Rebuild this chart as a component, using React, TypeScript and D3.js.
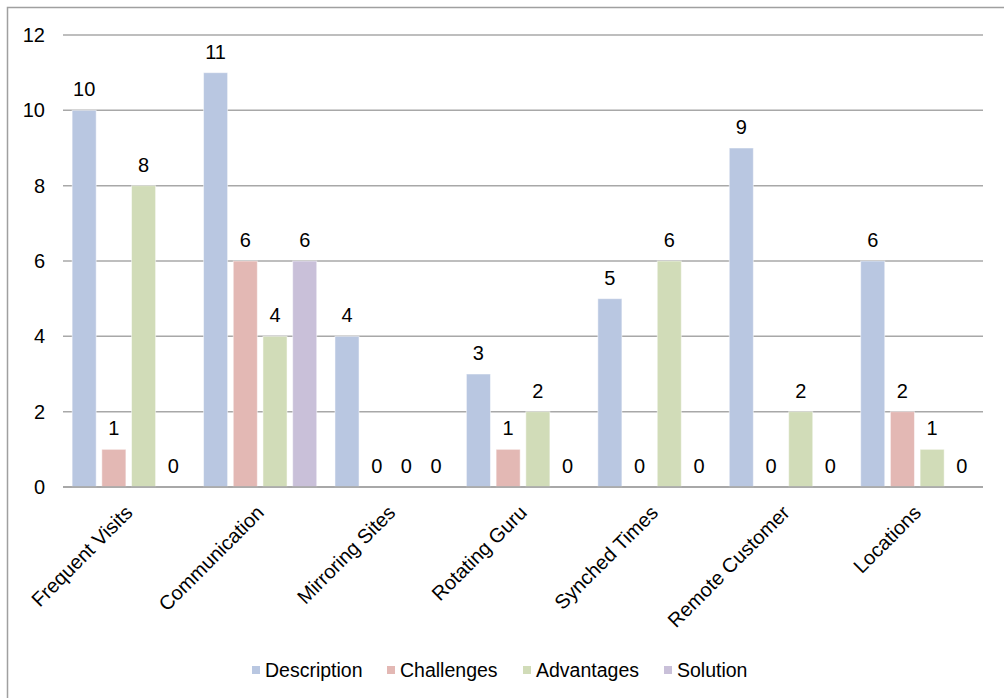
import React from "react";
import * as d3 from "d3";

const categories = [
  "Frequent Visits",
  "Communication",
  "Mirroring Sites",
  "Rotating Guru",
  "Synched Times",
  "Remote Customer",
  "Locations",
];
const seriesNames = ["Description", "Challenges", "Advantages", "Solution"];
const description = [10, 11, 4, 3, 5, 9, 6];
const challenges = [1, 6, 0, 1, 0, 0, 2];
const advantages = [8, 4, 0, 2, 6, 2, 1];
const solution = [0, 6, 0, 0, 0, 0, 0];
const yTicks = [0, 2, 4, 6, 8, 10, 12];

const seriesValues = [description, challenges, advantages, solution];
const colors = ["#b9c7e1", "#e3b8b4", "#d1dcb8", "#c9c0d9"];

const W = 1004;
const H = 698;
const FONT = "'Liberation Sans', Arial, sans-serif";

export default function App() {
  const x = d3.scaleBand<string>().domain(categories).range([63, 983]).padding(0);
  const xs = d3
    .scaleBand<string>()
    .domain(seriesNames)
    .range([0, x.bandwidth()])
    .paddingInner(0.19)
    .paddingOuter(0.307);
  const y = d3.scaleLinear().domain([0, 12]).range([487, 35]);

  const legendX = [252, 387, 523, 664];

  return (
    <svg
      width={W}
      height={H}
      style={{ position: "absolute", left: 0, top: 0, background: "#fff" }}
      fontFamily={FONT}
    >
      <rect x={7.5} y={7.5} width={W + 20} height={H + 20} fill="#fff" stroke="#a0a0a0" strokeWidth={1.5} />

      {yTicks.map((t) => (
        <g key={t}>
          <line x1={63} x2={983} y1={y(t)} y2={y(t)} stroke="#a8a8a8" strokeWidth={1.5} />
          <text x={45} y={y(t)} dy="0.35em" textAnchor="end" fontSize={20} fill="#000">
            {t}
          </text>
        </g>
      ))}

      {categories.map((c, ci) => (
        <g key={c} transform={`translate(${x(c)},0)`}>
          {seriesNames.map((s, si) => {
            const v = seriesValues[si][ci];
            const bx = xs(s)!;
            const bw = xs.bandwidth();
            return (
              <g key={s}>
                {v > 0 && (
                  <rect
                    x={bx}
                    y={y(v)}
                    width={bw}
                    height={y(0) - y(v)}
                    fill={colors[si]}
                    stroke="#ffffff"
                    strokeOpacity={0.5}
                    strokeWidth={1}
                  />
                )}
                <text x={bx + bw / 2} y={y(v) - 14} textAnchor="middle" fontSize={20} fill="#000">
                  {v}
                </text>
              </g>
            );
          })}
        </g>
      ))}

      <line x1={63} x2={983} y1={y(0)} y2={y(0)} stroke="#a0a0a0" strokeWidth={1.5} />

      {categories.map((c) => {
        const cx = x(c)! + x.bandwidth() / 2 + 5;
        const cy = y(0) + 27;
        return (
          <text
            key={c}
            transform={`translate(${cx},${cy}) rotate(-45)`}
            textAnchor="end"
            fontSize={20}
            fill="#000"
          >
            {c}
          </text>
        );
      })}

      {seriesNames.map((s, i) => (
        <g key={s}>
          <rect x={legendX[i]} y={666} width={8} height={8} fill={colors[i]} />
          <text x={legendX[i] + 13} y={677} fontSize={19.5} fill="#000">
            {s}
          </text>
        </g>
      ))}
    </svg>
  );
}
